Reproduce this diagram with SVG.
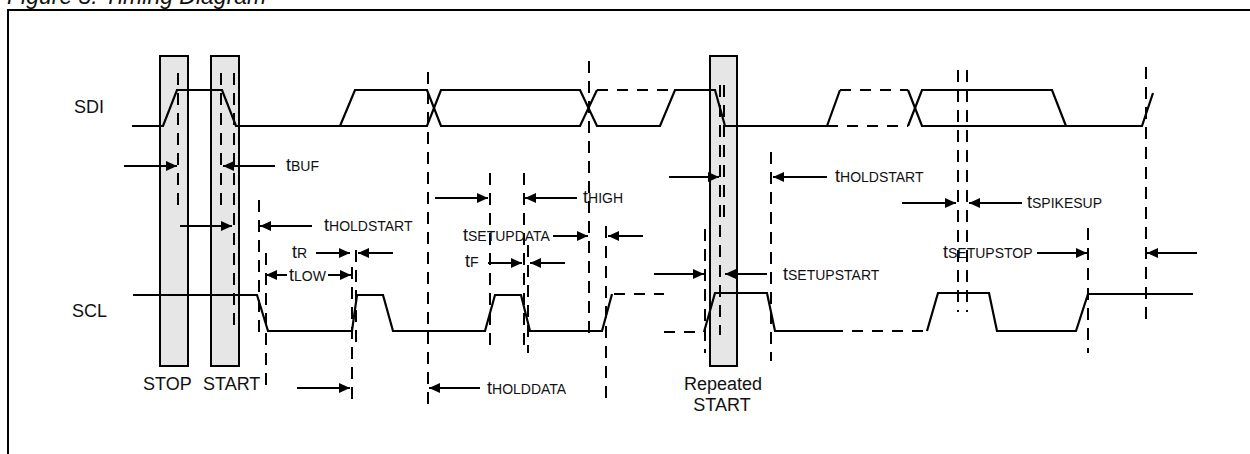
<svg xmlns="http://www.w3.org/2000/svg" width="1250" height="454" viewBox="0 0 1250 454">
<style>
.frame{fill:none;stroke:#000;stroke-width:2}
.box{fill:#e6e6e6;stroke:#000;stroke-width:2}
.sig{fill:none;stroke:#000;stroke-width:2.2;stroke-linejoin:miter}
.sigd{fill:none;stroke:#000;stroke-width:2.2;stroke-dasharray:11 9}
.guide{fill:none;stroke:#000;stroke-width:2;stroke-dasharray:12 8}
.arr{fill:none;stroke:#000;stroke-width:2;marker-end:url(#ah)}
.lbl{font-family:"Liberation Sans",Arial,Helvetica,sans-serif;font-size:18px;fill:#111}
.sub{font-size:14px}
.title{font-family:"Liberation Sans",Arial,sans-serif;font-size:23px;font-style:italic;fill:#111}
</style>
<defs>
<marker id="ah" viewBox="0 0 11 10" refX="11" refY="5" markerWidth="11" markerHeight="10" markerUnits="userSpaceOnUse" orient="auto">
<path d="M0,0 L11,5 L0,10 z" fill="#000"/>
</marker>
</defs>
<rect width="1250" height="454" fill="#fff"/>
<text class="title" x="7" y="4">Figure 5: Timing Diagram</text>
<path class="frame" d="M8,454 L8,10 L1250,10"/>

<g id="stop-box"><rect class="box" x="160" y="56" width="28" height="310"/></g>
<g id="start-box"><rect class="box" x="211" y="56" width="28" height="310"/></g>
<g id="repeated-start-box"><rect class="box" x="710" y="56" width="27" height="310"/></g>

<g id="sdi">
<text class="lbl" x="74" y="113">SDI</text>
<path class="sig" d="M132,126 L163,126 L177,90 L222,90 L236,126 L427,126 L441,90 L580,90 L597,126 L660,126 L675,90 L715,90 L725,126 L827,126 L840,90"/>
<path class="sig" d="M340,126 L355,90 L427,90 L441,126 L580,126 L597,90"/>
<path class="sigd" d="M597,90 L687,90"/>
<path class="sigd" d="M840,90 L908,90"/>
<path class="sigd" d="M827,126 L908,126"/>
<path class="sig" d="M908,90 L922,126 L1142,126 L1153,93"/>
<path class="sig" d="M908,126 L922,90 L1052,90 L1066,126"/>
</g>

<g id="scl">
<text class="lbl" x="72" y="317">SCL</text>
<path class="sig" d="M133,295 L257,295 L268,331 L352,331 L357,295 L383,295 L393,331 L485,331 L495,295 L521,295 L530,331 L602,331 L612,294"/>
<path class="sigd" d="M614,294 L664,294"/>
<path class="sigd" d="M664,332 L704,332"/>
<path class="sig" d="M704,332 L715,293 L767,293 L775,331 L832,331"/>
<path class="sigd" d="M832,331 L927,331"/>
<path class="sig" d="M927,331 L938,293 L989,293 L997,331 L1076,331 L1088,294 L1193,294"/>
</g>

<g id="guides">
<path class="guide" d="M178,73 V210 M221,73 V210 M234,73 V333 M259,200 V336 M266,253 V389 M352,267 V406 M356,250 V350 M428,72 V405 M490,173 V353 M524,173 V353 M528,245 V353 M589,61 V338 M606,226 V399 M705,229 V353 M720,85 V335 M724,85 V217 M771,152 V361 M958,70 V312 M967,70 V312 M1088,228 V353 M1146,67 V323"/>
</g>

<g id="connectors">
<line class="arr" x1="124" y1="166" x2="177" y2="166"/>
<line class="arr" x1="275" y1="166" x2="223" y2="166"/>
<line class="arr" x1="180" y1="226" x2="232" y2="226"/>
<line class="arr" x1="312" y1="226" x2="260" y2="226"/>
<line class="arr" x1="316" y1="253" x2="350" y2="253"/>
<line class="arr" x1="393" y1="253" x2="358" y2="253"/>
<line class="arr" x1="287" y1="275" x2="266" y2="275"/>
<line class="arr" x1="328" y1="275" x2="351" y2="275"/>
<line class="arr" x1="297" y1="388" x2="350" y2="388"/>
<line class="arr" x1="435" y1="198" x2="488" y2="198"/>
<line class="arr" x1="577" y1="198" x2="525" y2="198"/>
<line class="arr" x1="553" y1="236" x2="588" y2="236"/>
<line class="arr" x1="643" y1="236" x2="608" y2="236"/>
<line class="arr" x1="488" y1="263" x2="522" y2="263"/>
<line class="arr" x1="565" y1="263" x2="530" y2="263"/>
<line class="arr" x1="480" y1="388" x2="429" y2="388"/>
<line class="arr" x1="669" y1="177" x2="719" y2="177"/>
<line class="arr" x1="827" y1="177" x2="773" y2="177"/>
<line class="arr" x1="654" y1="274" x2="704" y2="274"/>
<line class="arr" x1="767" y1="274" x2="725" y2="274"/>
<line class="arr" x1="902" y1="203" x2="956" y2="203"/>
<line class="arr" x1="1022" y1="203" x2="969" y2="203"/>
<line class="arr" x1="1037" y1="253" x2="1087" y2="253"/>
<line class="arr" x1="1197" y1="253" x2="1147" y2="253"/>
</g>

<g id="labels">
<text class="lbl" x="286" y="171">t<tspan class="sub">BUF</tspan></text>
<text class="lbl" x="324" y="231">t<tspan class="sub">HOLDSTART</tspan></text>
<text class="lbl" x="292" y="258">t<tspan class="sub">R</tspan></text>
<text class="lbl" x="289" y="281">t<tspan class="sub">LOW</tspan></text>
<text class="lbl" x="583" y="203">t<tspan class="sub">HIGH</tspan></text>
<text class="lbl" x="463" y="241">t<tspan class="sub">SETUPDATA</tspan></text>
<text class="lbl" x="465" y="267">t<tspan class="sub">F</tspan></text>
<text class="lbl" x="487" y="394">t<tspan class="sub">HOLDDATA</tspan></text>
<text class="lbl" x="835" y="182">t<tspan class="sub">HOLDSTART</tspan></text>
<text class="lbl" x="1027" y="208">t<tspan class="sub">SPIKESUP</tspan></text>
<text class="lbl" x="943" y="258">t<tspan class="sub">SETUPSTOP</tspan></text>
<text class="lbl" x="783" y="280">t<tspan class="sub">SETUPSTART</tspan></text>
<text class="lbl" x="143" y="390">STOP</text>
<text class="lbl" x="203" y="390">START</text>
<text class="lbl" x="723" y="390" text-anchor="middle">Repeated</text>
<text class="lbl" x="722" y="411" text-anchor="middle">START</text>
</g>
</svg>
